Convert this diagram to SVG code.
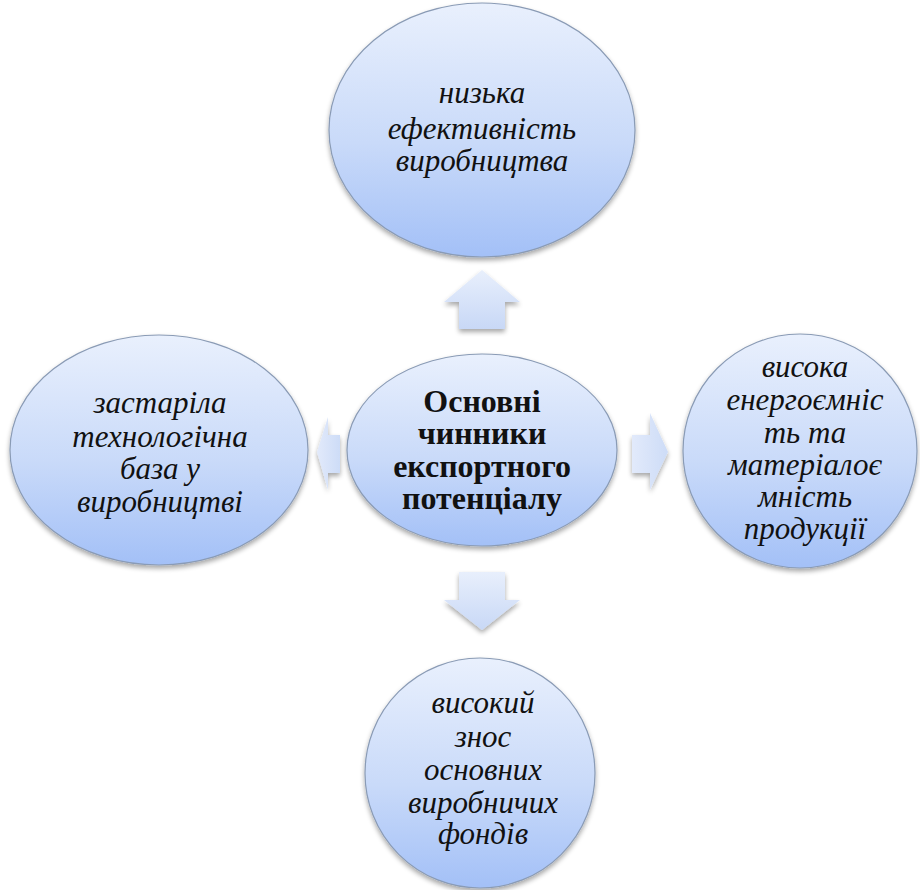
<svg xmlns="http://www.w3.org/2000/svg" width="920" height="890" viewBox="0 0 920 890">
<defs>
<linearGradient id="g" x1="0" y1="0" x2="0" y2="1">
<stop offset="0" stop-color="#e9f0fd"/>
<stop offset="0.55" stop-color="#c9daf9"/>
<stop offset="1" stop-color="#a3c0f7"/>
</linearGradient>
<linearGradient id="ga" x1="0" y1="0" x2="0" y2="1">
<stop offset="0" stop-color="#e8effc"/>
<stop offset="1" stop-color="#c8d8f6"/>
</linearGradient>
<linearGradient id="gah" x1="0" y1="0" x2="1" y2="0">
<stop offset="0" stop-color="#e2eafb"/>
<stop offset="1" stop-color="#cddcf7"/>
</linearGradient>
<filter id="sh" x="-10%" y="-10%" width="120%" height="125%">
<feGaussianBlur in="SourceAlpha" stdDeviation="2.5"/>
<feOffset dx="0" dy="3" result="b"/>
<feComponentTransfer><feFuncA type="linear" slope="0.35"/></feComponentTransfer>
<feMerge><feMergeNode/><feMergeNode in="SourceGraphic"/></feMerge>
</filter>
</defs>
<style>
.n{fill:url(#g);stroke:#8a9bb5;stroke-width:1.2;filter:url(#sh)}
.t{font-family:"Liberation Serif","Times New Roman",serif;font-style:italic;font-size:31px;fill:#111;text-anchor:middle}
.b{font-family:"Liberation Serif","Times New Roman",serif;font-weight:bold;font-size:32px;fill:#111;text-anchor:middle}
.a{fill:url(#ga)}
.ah{fill:url(#gah)}
</style>
<rect width="920" height="890" fill="#ffffff"/>
<g id="connectors" filter="url(#sh)">
<polygon class="a" points="482,270 520,302 505,302 505,329 459,329 459,302 444,302"/>
<polygon class="a" points="459,572 505,572 505,600 520,600 482,630 444,600 459,600"/>
<polygon class="ah" points="632,435 650,435 650,413 668,452 650,490 650,473 632,473"/>
<polygon class="ah" points="340,435 328,435 328,417 317,452 328,490 328,473 340,473"/>
</g>
<g id="top">
<ellipse class="n" cx="482" cy="130" rx="153" ry="127"/>
<text class="t" x="482" y="103">низька</text>
<text class="t" x="482" y="139">ефективність</text>
<text class="t" x="482" y="171">виробництва</text>
</g>
<g id="center">
<ellipse class="n" cx="482" cy="450" rx="135" ry="96"/>
<text class="b" x="482" y="412">Основні</text>
<text class="b" x="482" y="444">чинники</text>
<text class="b" x="482" y="477">експортного</text>
<text class="b" x="482" y="509">потенціалу</text>
</g>
<g id="left">
<ellipse class="n" cx="159" cy="450" rx="149" ry="115"/>
<text class="t" x="160" y="413">застаріла</text>
<text class="t" x="160" y="447">технологічна</text>
<text class="t" x="160" y="479">база у</text>
<text class="t" x="160" y="512">виробництві</text>
</g>
<g id="right">
<ellipse class="n" cx="800" cy="451" rx="117" ry="117"/>
<text class="t" x="805" y="377">висока</text>
<text class="t" x="805" y="410">енергоємніс</text>
<text class="t" x="805" y="443">ть та</text>
<text class="t" x="805" y="475">матеріалоє</text>
<text class="t" x="805" y="507">мність</text>
<text class="t" x="805" y="539">продукції</text>
</g>
<g id="bottom">
<ellipse class="n" cx="480" cy="773" rx="115" ry="115"/>
<text class="t" x="483" y="713">високий</text>
<text class="t" x="483" y="747">знос</text>
<text class="t" x="483" y="780">основних</text>
<text class="t" x="483" y="813">виробничих</text>
<text class="t" x="483" y="844">фондів</text>
</g>
</svg>
